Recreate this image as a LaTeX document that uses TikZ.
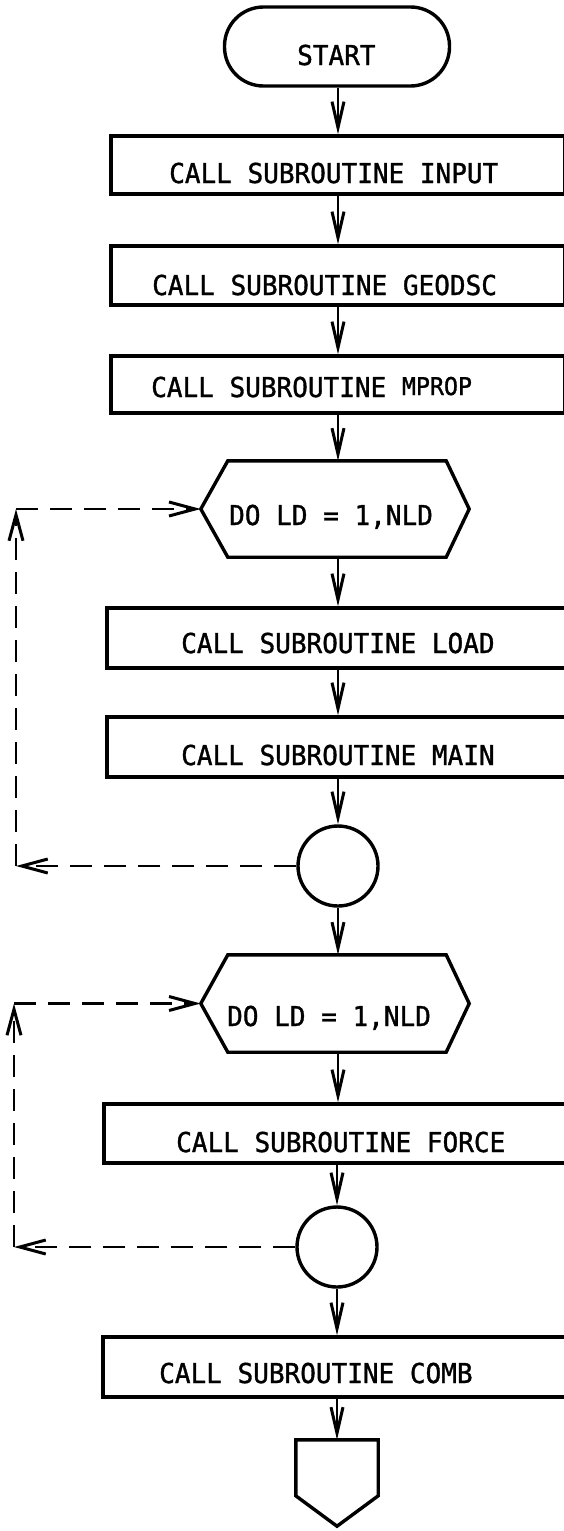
\documentclass[tikz,border=0pt]{standalone}
\usepackage{fontspec}
\newfontfamily\flfont{DejaVu Sans Mono}[FakeStretch=0.95,FakeBold=1.2]
\usetikzlibrary{arrows.meta}
\begin{document}
\begin{tikzpicture}[x=1pt,y=-1pt,
  box/.style={draw, line width=3.4pt, inner sep=0pt},
  ghost/.style={draw=none, inner sep=0pt},
  outline/.style={line width=3.4pt, line join=miter},
  txt/.style={font=\flfont\fontsize{27.4pt}{30pt}\selectfont, inner sep=0pt, anchor=base west},
  flow/.style={line width=2.4pt, -{Straight Barb[length=26pt,width=12pt,line width=3pt]}},
  loopline/.style={line width=2.6pt, dash pattern=on 22pt off 12pt, -{Straight Barb[length=26pt,width=14pt,line width=3pt]}}]
\useasboundingbox (0,0) rectangle (563,1531);

% terminal
\node[box, rounded corners=39pt, minimum width=225pt, minimum height=79pt] (start) at (337,46.5) {};
\node[txt] (startt) at (297,65) {START};

% process boxes
\node[box, minimum width=454pt, minimum height=58pt] (input) at (338,165) {};
\node[txt] (inputt) at (169,183) {CALL SUBROUTINE INPUT};
\node[box, minimum width=454pt, minimum height=59pt] (geodsc) at (338,275.5) {};
\node[txt] (geodsct) at (152,295) {CALL SUBROUTINE GEODSC};
\node[box, minimum width=454pt, minimum height=57pt] (mprop) at (338,384.5) {};
\node[txt] (mpropt) at (151,397) {CALL SUBROUTINE {\fontsize{24.5pt}{28pt}\selectfont\raisebox{2pt}{MPROP}}};

% loop 1
\node[ghost, minimum width=268pt, minimum height=96pt] (h1) at (335,509) {};
\draw[outline] (h1.west) -- ([xshift=27pt]h1.north west) -- ([xshift=-23pt]h1.north east) -- (h1.east)
  -- ([xshift=-23pt]h1.south east) -- ([xshift=27pt]h1.south west) -- cycle;
\node[txt] (h1t) at (229,525) {DO LD = 1,NLD};
\node[box, minimum width=462pt, minimum height=60pt] (load) at (338,638) {};
\node[txt] (loadt) at (181,653) {CALL SUBROUTINE LOAD};
\node[box, minimum width=462pt, minimum height=60pt] (main) at (338,747) {};
\node[txt] (maint) at (181,765) {CALL SUBROUTINE MAIN};
\node[box, circle, minimum size=80pt] (c1) at (338,866) {};

% loop 2
\node[ghost, minimum width=268pt, minimum height=97pt] (h2) at (335,1003.5) {};
\draw[outline] (h2.west) -- ([xshift=27pt]h2.north west) -- ([xshift=-23pt]h2.north east) -- (h2.east)
  -- ([xshift=-23pt]h2.south east) -- ([xshift=27pt]h2.south west) -- cycle;
\node[txt] (h2t) at (227,1026) {DO LD = 1,NLD};
\node[box, minimum width=468pt, minimum height=59pt] (force) at (338,1133.5) {};
\node[txt] (forcet) at (176,1152) {CALL SUBROUTINE FORCE};
\node[box, circle, minimum size=80pt] (c2) at (337,1247) {};

\node[box, minimum width=470pt, minimum height=60pt] (comb) at (338,1367) {};
\node[txt] (combt) at (159,1383) {CALL SUBROUTINE COMB};

% off-page connector
\node[ghost, minimum width=82pt, minimum height=86pt] (off) at (337,1483) {};
\draw[outline] (off.north west) -- (off.north east) -- ++(0,56) -- (off.south)
  -- ([yshift=-56pt]off.north west) -- cycle;

% flow connectors
\draw[flow] (start.south -| input.north) -- (input.north);
\draw[flow] (input.south) -- (geodsc.north);
\draw[flow] (geodsc.south) -- (mprop.north);
\draw[flow] (mprop.south) -- (mprop.south |- h1.north);
\draw[flow] (load.north |- h1.south) -- (load.north);
\draw[flow] (load.south) -- (main.north);
\draw[flow] (main.south) -- (main.south |- c1.north);
\draw[flow] (main.south |- c1.south) -- (main.south |- h2.north);
\draw[flow] (force.north |- h2.south) -- (force.north);
\draw[flow] (force.south -| c2.north) -- (c2.north);
\draw[flow] (c2.south) -- (c2.south |- comb.north);
\draw[flow] (comb.south -| off.north) -- (off.north);

% dashed loop returns
\coordinate (bl1) at (16,866);
\coordinate (tl1) at (16,509);
\draw[loopline] (c1.west) -- (bl1);
\draw[loopline] (bl1) -- (tl1);
\draw[loopline] (tl1) -- (h1.west);

\coordinate (bl2) at (14,1247);
\coordinate (tl2) at (14,1003.5);
\draw[loopline] (c2.west) -- (bl2);
\draw[loopline] (bl2) -- (tl2);
\draw[loopline] (tl2) -- (h2.west);
\end{tikzpicture}
\end{document}
